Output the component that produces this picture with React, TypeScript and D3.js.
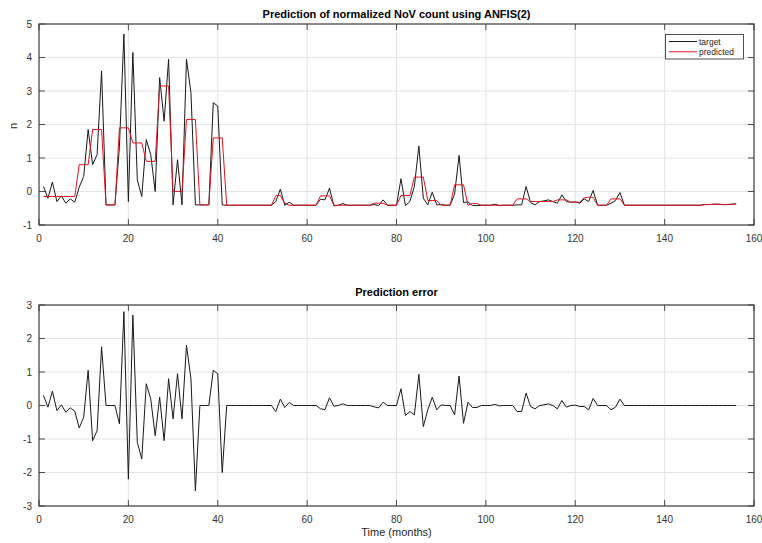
import React, { useEffect, useRef } from "react";
import * as d3 from "d3";

// months 1..156, values
const target = [
  0.15, -0.2, 0.28, -0.3, -0.13, -0.35, -0.22, -0.32, 0.13, 0.45,
  1.85, 0.8, 1.1, 3.6, -0.4, -0.4, -0.4, 1.35, 4.7, -0.3,
  4.15, 0.35, -0.15, 1.55, 1.1, 0.0, 3.4, 2.1, 3.95, -0.4,
  0.95, -0.4, 3.95, 2.95, -0.4, -0.4, -0.4, -0.4, 2.65, 2.55,
  -0.4, -0.41, -0.41, -0.41, -0.41, -0.41, -0.41, -0.41, -0.41, -0.41,
  -0.41, -0.41, -0.3, 0.07, -0.41, -0.32, -0.41, -0.41, -0.41, -0.41,
  -0.41, -0.41, -0.23, -0.25, 0.1, -0.43, -0.41, -0.36, -0.41, -0.41,
  -0.41, -0.41, -0.41, -0.41, -0.39, -0.42, -0.25, -0.41, -0.41, -0.41,
  0.38, -0.42, -0.3, 0.15, 1.36, -0.2, -0.4, -0.02, -0.4, -0.39,
  -0.41, -0.41, -0.08, 1.08, -0.33, -0.31, -0.42, -0.42, -0.41, -0.41,
  -0.41, -0.38, -0.42, -0.41, -0.41, -0.41, -0.4, -0.4, 0.15, -0.33,
  -0.4, -0.3, -0.28, -0.25, -0.3, -0.35, -0.1, -0.3, -0.32, -0.31,
  -0.35, -0.22, -0.3, 0.03, -0.41, -0.41, -0.41, -0.35, -0.27, -0.03,
  -0.41, -0.41, -0.41, -0.41, -0.41, -0.41, -0.41, -0.41, -0.41, -0.41,
  -0.41, -0.41, -0.41, -0.41, -0.41, -0.41, -0.41, -0.41, -0.39, -0.39,
  -0.38, -0.38, -0.39, -0.39, -0.38, -0.37,
];

const predicted = [
  -0.15, -0.15, -0.15, -0.15, -0.15, -0.15, -0.15, -0.15, 0.8, 0.8,
  0.8, 1.85, 1.85, 1.85, -0.4, -0.4, -0.4, 1.9, 1.9, 1.9,
  1.45, 1.45, 1.45, 0.9, 0.9, 0.9, 3.15, 3.15, 3.15, 0.0,
  0.0, 0.0, 2.15, 2.15, 2.15, -0.4, -0.4, -0.4, 1.6, 1.6,
  1.6, -0.41, -0.41, -0.41, -0.41, -0.41, -0.41, -0.41, -0.41, -0.41,
  -0.41, -0.41, -0.12, -0.12, -0.35, -0.41, -0.41, -0.41, -0.41, -0.41,
  -0.41, -0.41, -0.13, -0.13, -0.13, -0.41, -0.41, -0.41, -0.41, -0.41,
  -0.41, -0.41, -0.41, -0.41, -0.35, -0.35, -0.35, -0.41, -0.41, -0.41,
  -0.12, -0.12, -0.12, 0.43, 0.43, 0.43, -0.27, -0.27, -0.27, -0.41,
  -0.41, -0.41, 0.2, 0.2, 0.2, -0.41, -0.36, -0.36, -0.41, -0.41,
  -0.41, -0.41, -0.41, -0.41, -0.41, -0.41, -0.22, -0.22, -0.22, -0.3,
  -0.3, -0.3, -0.3, -0.3, -0.3, -0.25, -0.25, -0.25, -0.32, -0.32,
  -0.32, -0.19, -0.17, -0.18, -0.41, -0.41, -0.41, -0.22, -0.22, -0.22,
  -0.41, -0.41, -0.41, -0.41, -0.41, -0.41, -0.41, -0.41, -0.41, -0.41,
  -0.41, -0.41, -0.41, -0.41, -0.41, -0.41, -0.41, -0.41, -0.39, -0.39,
  -0.38, -0.38, -0.39, -0.39, -0.38, -0.37,
];

const predError = [
  0.3, -0.05, 0.43, -0.15, 0.02, -0.2, -0.07, -0.17, -0.67, -0.35,
  1.05, -1.05, -0.75, 1.75, 0, 0, 0, -0.55, 2.8, -2.2,
  2.7, -1.1, -1.6, 0.65, 0.2, -0.9, 0.25, -1.05, 0.8, -0.4,
  0.95, -0.4, 1.8, 0.8, -2.55, 0, 0, 0, 1.05, 0.95,
  -2.0, 0, 0, 0, 0, 0, 0, 0, 0, 0,
  0, 0, -0.18, 0.19, -0.06, 0.09, 0, 0, 0, 0,
  0, 0, -0.1, -0.12, 0.23, -0.02, 0, 0.05, 0, 0,
  0, 0, 0, 0, -0.04, -0.07, 0.1, 0, 0, 0,
  0.5, -0.3, -0.18, -0.28, 0.93, -0.63, -0.13, 0.25, -0.13, 0.02,
  0, 0, -0.28, 0.88, -0.53, 0.1, -0.06, -0.06, 0, 0,
  0, 0.03, -0.01, 0, 0, 0, -0.18, -0.18, 0.37, -0.03,
  -0.1, 0, 0.02, 0.05, 0, -0.1, 0.15, -0.05, 0, 0.01,
  -0.03, -0.03, -0.13, 0.21, 0, 0, 0, -0.13, -0.05, 0.19,
  0, 0, 0, 0, 0, 0, 0, 0, 0, 0,
  0, 0, 0, 0, 0, 0, 0, 0, 0, 0,
  0, 0, 0, 0, 0, 0,
];

const xTicks = [0, 20, 40, 60, 80, 100, 120, 140, 160];
const topYTicks = [-1, 0, 1, 2, 3, 4, 5];
const errYTicks = [-3, -2, -1, 0, 1, 2, 3];
const legendLabels = ["target", "predicted"];

const W = 762;
const H = 543;
const FONT = "'Liberation Sans', Arial, Helvetica, sans-serif";
const AXIS_COLOR = "#262626";
const GRID_COLOR = "#e3e3e3";
const RED = "#e0141e";

const x = d3.scaleLinear().domain([0, 160]).range([39, 754]);

function drawPanel(svg, top, bottom, yDomain, yTicks) {
  const y = d3.scaleLinear().domain(yDomain).range([bottom, top]);
  const g = svg.append("g");

  // grid
  g.selectAll(".gx")
    .data(xTicks.slice(1, -1))
    .enter()
    .append("line")
    .attr("x1", (d) => x(d))
    .attr("x2", (d) => x(d))
    .attr("y1", top)
    .attr("y2", bottom)
    .attr("stroke", GRID_COLOR)
    .attr("stroke-width", 1);
  g.selectAll(".gy")
    .data(yTicks.slice(1, -1))
    .enter()
    .append("line")
    .attr("x1", x(0))
    .attr("x2", x(160))
    .attr("y1", (d) => y(d))
    .attr("y2", (d) => y(d))
    .attr("stroke", GRID_COLOR)
    .attr("stroke-width", 1);

  return { g, y };
}

function drawFrame(g, y, top, bottom, yTicks) {
  const tick = 6;
  // inward ticks on all four sides
  xTicks.forEach((t) => {
    g.append("line").attr("x1", x(t)).attr("x2", x(t))
      .attr("y1", bottom).attr("y2", bottom - tick)
      .attr("stroke", AXIS_COLOR).attr("stroke-width", 0.8);
    g.append("line").attr("x1", x(t)).attr("x2", x(t))
      .attr("y1", top).attr("y2", top + tick)
      .attr("stroke", AXIS_COLOR).attr("stroke-width", 0.8);
    g.append("text")
      .attr("x", x(t))
      .attr("y", bottom + 17)
      .attr("text-anchor", "middle")
      .attr("font-size", 10)
      .attr("fill", "#333")
      .text(t);
  });
  yTicks.forEach((t) => {
    g.append("line").attr("x1", x(0)).attr("x2", x(0) + tick)
      .attr("y1", y(t)).attr("y2", y(t))
      .attr("stroke", AXIS_COLOR).attr("stroke-width", 0.8);
    g.append("line").attr("x1", x(160)).attr("x2", x(160) - tick)
      .attr("y1", y(t)).attr("y2", y(t))
      .attr("stroke", AXIS_COLOR).attr("stroke-width", 0.8);
    g.append("text")
      .attr("x", x(0) - 7)
      .attr("y", y(t) + 3.5)
      .attr("text-anchor", "end")
      .attr("font-size", 10)
      .attr("fill", "#333")
      .text(t);
  });
  g.append("rect")
    .attr("x", x(0))
    .attr("y", top)
    .attr("width", x(160) - x(0))
    .attr("height", bottom - top)
    .attr("fill", "none")
    .attr("stroke", "#3a3a3a")
    .attr("stroke-width", 1.2);
}

const App = () => {
  const svgRef = useRef(null);

  useEffect(() => {
    const svg = d3.select(svgRef.current);
    svg.selectAll("*").remove();
    svg.style("font-family", FONT);

    // ---- top panel ----
    const p1 = drawPanel(svg, 24, 225, [-1, 5], topYTicks);
    const line1 = d3
      .line()
      .x((d, i) => x(i + 1))
      .y((d) => p1.y(d));
    p1.g.append("path")
      .attr("d", line1(target))
      .attr("fill", "none")
      .attr("stroke", "#1a1a1a")
      .attr("stroke-width", 1);
    p1.g.append("path")
      .attr("d", line1(predicted))
      .attr("fill", "none")
      .attr("stroke", RED)
      .attr("stroke-width", 1);
    drawFrame(p1.g, p1.y, 24, 225, topYTicks);

    svg.append("text")
      .attr("x", (x(0) + x(160)) / 2)
      .attr("y", 18)
      .attr("text-anchor", "middle")
      .attr("font-size", 11)
      .attr("font-weight", "bold")
      .attr("fill", "#000")
      .text("Prediction of normalized NoV count using ANFIS(2)");

    svg.append("text")
      .attr("transform", "translate(17,126) rotate(-90)")
      .attr("text-anchor", "middle")
      .attr("font-size", 11)
      .attr("fill", "#262626")
      .text("n");

    // legend
    const lg = svg.append("g");
    lg.append("rect")
      .attr("x", 665.5)
      .attr("y", 34.5)
      .attr("width", 78)
      .attr("height", 24.5)
      .attr("fill", "#fff")
      .attr("stroke", AXIS_COLOR)
      .attr("stroke-width", 0.8);
    legendLabels.forEach((lab, i) => {
      const ly = 41.5 + i * 10.3;
      lg.append("line")
        .attr("x1", 669).attr("x2", 697)
        .attr("y1", ly).attr("y2", ly)
        .attr("stroke", i === 0 ? "#1a1a1a" : RED)
        .attr("stroke-width", 1);
      lg.append("text")
        .attr("x", 699)
        .attr("y", ly + 3)
        .attr("font-size", 8.5)
        .attr("fill", "#262626")
        .text(lab);
    });

    // ---- bottom panel ----
    const p2 = drawPanel(svg, 305, 506, [-3, 3], errYTicks);
    const line2 = d3
      .line()
      .x((d, i) => x(i + 1))
      .y((d) => p2.y(d));
    p2.g.append("path")
      .attr("d", line2(predError))
      .attr("fill", "none")
      .attr("stroke", "#1a1a1a")
      .attr("stroke-width", 1);
    drawFrame(p2.g, p2.y, 305, 506, errYTicks);

    svg.append("text")
      .attr("x", (x(0) + x(160)) / 2)
      .attr("y", 296)
      .attr("text-anchor", "middle")
      .attr("font-size", 11)
      .attr("font-weight", "bold")
      .attr("fill", "#000")
      .text("Prediction error");

    svg.append("text")
      .attr("x", (x(0) + x(160)) / 2)
      .attr("y", 536)
      .attr("text-anchor", "middle")
      .attr("font-size", 11)
      .attr("fill", "#262626")
      .text("Time (months)");
  }, []);

  return (
    <div style={{ position: "absolute", left: 0, top: 0 }}>
      <svg ref={svgRef} width={W} height={H} style={{ display: "block", background: "#fff" }} />
    </div>
  );
};

export default App;
